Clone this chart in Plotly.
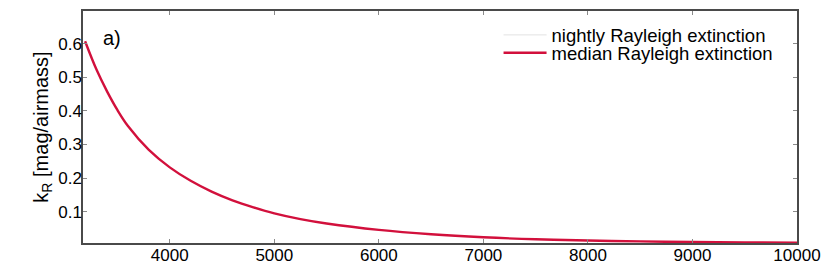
import plotly.graph_objects as go

# wavelength [Angstrom] and Rayleigh extinction [mag/airmass]
wavelength = [3190, 3300, 3400, 3500, 3600, 3800, 4000, 4200, 4400, 4600, 4800,
              5000, 5250, 5500, 6000, 6500, 7000, 7500, 8000, 8500, 9000, 9500, 10000]
k_median = [0.607, 0.522, 0.458, 0.402, 0.355, 0.284, 0.232, 0.192, 0.160, 0.134, 0.113,
            0.095, 0.078, 0.065, 0.046, 0.033, 0.024, 0.018, 0.0145, 0.0118, 0.0098, 0.0086, 0.0078]
k_nightly = k_median

x_ticks = [4000, 5000, 6000, 7000, 8000, 9000, 10000]
x_labels = ["4000", "5000", "6000", "7000", "8000", "9000", "10000"]
y_ticks = [0.1, 0.2, 0.3, 0.4, 0.5, 0.6]
y_labels = ["0.1", "0.2", "0.3", "0.4", "0.5", "0.6"]

FONT = "Liberation Sans, Arial, sans-serif"

fig = go.Figure()
fig.add_trace(go.Scatter(
    x=wavelength, y=k_nightly, mode="lines", line_shape="spline",
    name="nightly Rayleigh extinction", legend="legend",
    line=dict(color="#d9d9d9", width=0.8),
))
fig.add_trace(go.Scatter(
    x=wavelength, y=k_median, mode="lines", line_shape="spline",
    name="median Rayleigh extinction", legend="legend2",
    line=dict(color="#d2103c", width=2.4),
))

axis_style = dict(
    showline=True, linecolor="#4a4a4a", linewidth=1.5, mirror="allticks",
    ticks="inside", ticklen=4, tickwidth=1, tickcolor="#8a8a8a",
    showgrid=False, zeroline=False, automargin=False, ticklabelstandoff=-4,
    tickfont=dict(family=FONT, size=17, color="black"),
)

fig.update_xaxes(range=[3170, 10000], tickvals=x_ticks, ticktext=x_labels, **axis_style)
fig.update_yaxes(
    range=[0.007, 0.697], tickvals=y_ticks, ticktext=y_labels, **axis_style,
    title=dict(text="k<sub>R</sub> [mag/airmass]", standoff=4,
               font=dict(family=FONT, size=20, color="black")),
)

fig.add_annotation(
    x=0.0252, y=0.884, xref="paper", yref="paper", text="a)", showarrow=False,
    xanchor="left", yanchor="middle", font=dict(family=FONT, size=20, color="black"),
)

legend_style = dict(
    xanchor="left", yanchor="middle",
    bgcolor="rgba(0,0,0,0)", borderwidth=0, itemwidth=43,
    font=dict(family=FONT, size=18.5, color="black"),
)

# page body adds an 8px offset, so the figure is 8px smaller than the window
fig.update_layout(
    width=822, height=269,
    margin=dict(l=75, r=33, t=3, b=34),
    plot_bgcolor="white", paper_bgcolor="white",
    font=dict(family=FONT, color="black"),
    showlegend=True,
    legend=dict(x=0.582, y=0.895, **legend_style),
    legend2=dict(x=0.582, y=0.818, **legend_style),
)

fig.write_html("out.html")
